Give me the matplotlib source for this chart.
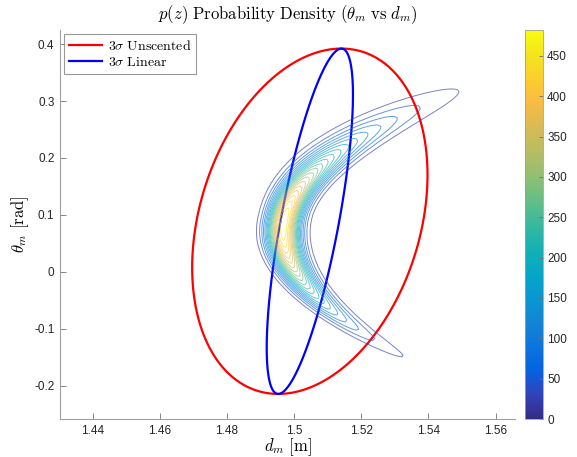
import numpy as np
import matplotlib
matplotlib.use("Agg")
import matplotlib.pyplot as plt
from matplotlib.colors import LinearSegmentedColormap, Normalize
from matplotlib.cm import ScalarMappable
from matplotlib.patches import Polygon
from matplotlib.lines import Line2D

# ---- data ----
mean_z = [1.5047, 0.089]                      # [d_m, theta_m]
sigma_theta = 0.101
cov_dtheta = 3.165e-4
sigma_d_unscented = 0.01168
sigma_d_linear = 0.00428

# banana-shaped density: ridge d(theta) and spreads
peak_density = 482.0
ridge_theta_v = 0.070      # vertex of ridge
ridge_d_v = 1.4968
ridge_k = 0.764
ridge_c = 0.127
theta_c = 0.085            # centre of the theta profile
sig_up, p_up, widen_up = 0.133, 2.5, 0.10   # upper arm
sig_lo, p_lo, widen_lo = 0.095, 2.0, 50.0   # lower arm
sig_v = 0.00324
n_levels = 20

xticks = [1.44, 1.46, 1.48, 1.50, 1.52, 1.54, 1.56]
xtick_labels = ["1.44", "1.46", "1.48", "1.5", "1.52", "1.54", "1.56"]
yticks = [-0.2, -0.1, 0.0, 0.1, 0.2, 0.3, 0.4]
ytick_labels = ["-0.2", "-0.1", "0", "0.1", "0.2", "0.3", "0.4"]
cbar_ticks = [0, 50, 100, 150, 200, 250, 300, 350, 400, 450]

parula_pts = [
    (0.2081, 0.1663, 0.5292), (0.1959, 0.2645, 0.7279), (0.0117, 0.3875, 0.8820),
    (0.0498, 0.4586, 0.8641), (0.0793, 0.5200, 0.8312), (0.0343, 0.5966, 0.8199),
    (0.0228, 0.6535, 0.7768), (0.0843, 0.6928, 0.7062), (0.2178, 0.7250, 0.6193),
    (0.3953, 0.7459, 0.5244), (0.5709, 0.7485, 0.4494), (0.7184, 0.7411, 0.3905),
    (0.8507, 0.7299, 0.3360), (0.9739, 0.7314, 0.2666), (0.9880, 0.8066, 0.1794),
    (0.9589, 0.8949, 0.1132), (0.9763, 0.9831, 0.0538)]
parula = LinearSegmentedColormap.from_list("parula", parula_pts, N=256)

plt.rcParams["mathtext.fontset"] = "cm"
plt.rcParams["font.family"] = ["Liberation Sans", "DejaVu Sans"]

fig = plt.figure(figsize=(5.77, 4.57), dpi=100)
ax = fig.add_axes([60/577, 38/457, 455/577, 389/457])
cax = fig.add_axes([525/577, 38/457, 18/577, 389/457])

# density grid
xlim = (1.4303, 1.5658)
ylim = (-0.258, 0.4246)
d = np.linspace(1.43, 1.566, 170)
th = np.linspace(-0.26, 0.43, 170)
D, TH = np.meshgrid(d, th)
Uv = TH - ridge_theta_v
ridge = ridge_d_v + ridge_k * Uv**2 + ridge_c * Uv**3
U = TH - theta_c
upper = U >= 0
sig = np.where(upper, sig_up, sig_lo)
pw = np.where(upper, p_up, p_lo)
wid = np.where(upper, widen_up, widen_lo)
S = np.sqrt(1 + (U / wid)**2)
H = np.exp(-0.5 * np.abs(U / sig)**pw)
V = D - ridge
Z = peak_density * H / S * np.exp(-0.5 * (V / (sig_v * S))**2)
zmax = peak_density
levels = np.linspace(0, zmax, n_levels + 2)[1:-1]
norm = Normalize(0, zmax)
ax.contour(D, TH, Z, levels=levels, cmap=parula, norm=norm,
           linewidths=0.7, alpha=0.65)

# 3-sigma ellipses
t = np.linspace(0, 2 * np.pi, 400, endpoint=False)
circle = np.vstack([np.cos(t), np.sin(t)])
handles = []
for sd, color, name in [(sigma_d_unscented, "#ff0000", "Unscented"),
                        (sigma_d_linear, "#0000ff", "Linear")]:
    P = np.array([[sd**2, cov_dtheta], [cov_dtheta, sigma_theta**2]])
    L = np.linalg.cholesky(P)
    pts = np.array(mean_z)[:, None] + 3 * L @ circle
    ax.add_patch(Polygon(pts.T, closed=True, fill=False, edgecolor=color, lw=1.6))
    handles.append(Line2D([], [], color=color, lw=1.6,
                          label=r"$3\sigma\ \mathrm{" + name + "}$"))

ax.set_xlim(xlim)
ax.set_ylim(ylim)
ax.set_xticks(xticks)
ax.set_xticklabels(xtick_labels)
ax.set_yticks(yticks)
ax.set_yticklabels(ytick_labels)
for s in ["top", "right"]:
    ax.spines[s].set_visible(False)
for s in ["left", "bottom"]:
    ax.spines[s].set_color("#a0a0a0")
    ax.spines[s].set_linewidth(0.8)
ax.tick_params(direction="in", length=4, width=0.6, color="#707070",
               labelsize=8.5, labelcolor="#262626", pad=4)

ax.set_title(r"$p(z)\ \mathrm{Probability\ Density}\ (\theta_m\ \mathrm{vs}\ d_m)$",
             fontsize=12, pad=8)
ax.set_xlabel(r"$d_m\ \mathrm{[m]}$", fontsize=12, labelpad=0)
ax.set_ylabel(r"$\theta_m\ \mathrm{[rad]}$", fontsize=12, labelpad=2)

leg = ax.legend(handles=handles, loc="upper left", fontsize=10, frameon=True,
                fancybox=False, edgecolor="#808080", handlelength=2.4,
                borderpad=0.35, labelspacing=0.15, handletextpad=0.4,
                borderaxespad=0.3)
leg.get_frame().set_linewidth(0.8)

cb = fig.colorbar(ScalarMappable(norm=norm, cmap=parula), cax=cax, ticks=cbar_ticks)
cb.outline.set_edgecolor("#a0a0a0")
cb.outline.set_linewidth(0.6)
cax.tick_params(direction="in", length=3, width=0.6, color="#707070",
                labelsize=8.5, labelcolor="#262626", pad=3)

fig.savefig("out.png", dpi=100)
